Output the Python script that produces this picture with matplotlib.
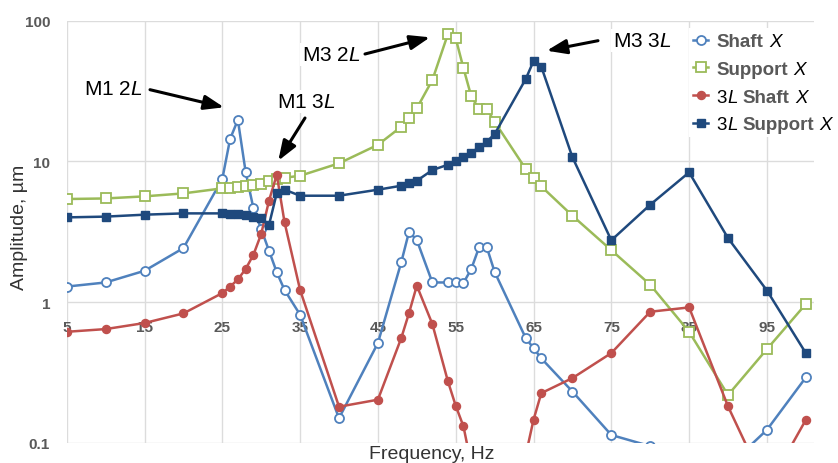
import matplotlib
matplotlib.use('Agg')
import matplotlib.pyplot as plt
from matplotlib.ticker import NullLocator
from matplotlib.offsetbox import AnchoredOffsetbox, HPacker, VPacker, TextArea, DrawingArea
from matplotlib.lines import Line2D

plt.rcParams['font.family'] = ['Liberation Sans', 'DejaVu Sans']
plt.rcParams['mathtext.fontset'] = 'custom'
plt.rcParams['mathtext.rm'] = 'Liberation Sans'
plt.rcParams['mathtext.it'] = 'Liberation Sans:italic'
plt.rcParams['mathtext.bf'] = 'Liberation Sans:bold'

# ---------------- data ----------------
freq = [5, 10, 15, 20, 25, 26, 27, 28, 29, 30, 31, 32, 33, 35, 40, 45, 48, 49, 50,
        52, 54, 55, 56, 57, 58, 59, 60, 64, 65, 66, 70, 75, 80, 85, 90, 95, 100]
shaft_x = [1.29, 1.38, 1.67, 2.42, 7.49, 14.4, 19.7, 8.4, 4.64, 3.3, 2.32, 1.63, 1.22,
           0.814, 0.150, 0.513, 1.92, 3.16, 2.76, 1.38, 1.38, 1.40, 1.37, 1.72, 2.45,
           2.45, 1.64, 0.556, 0.472, 0.399, 0.232, 0.114, 0.095, 0.075, 0.068, 0.124, 0.292]
support_x = [5.40, 5.45, 5.64, 5.92, 6.43, 6.5, 6.6, 6.65, 6.75, 6.85, 7.28, 7.5, 7.65,
             7.9, 9.68, 13.1, 17.6, 20.3, 23.8, 37.8, 80.2, 74.8, 45.8, 28.9, 23.5,
             23.5, 19.1, 8.82, 7.57, 6.64, 4.11, 2.34, 1.33, 0.616, 0.219, 0.464, 0.97]
shaft3l_x = [0.616, 0.644, 0.711, 0.832, 1.16, 1.29, 1.45, 1.72, 2.17, 3.05, 5.25, 8.03,
             3.69, 1.22, 0.181, 0.203, 0.556, 0.837, 1.31, 0.699, 0.274, 0.184, 0.131,
             0.07, 0.05, 0.05, 0.05, 0.082, 0.146, 0.226, 0.289, 0.435, 0.855, 0.918,
             0.182, 0.047, 0.146]
support3l_x = [4.0, 4.05, 4.18, 4.27, 4.27, 4.22, 4.2, 4.15, 4.05, 3.96, 3.53, 5.95, 6.29,
               5.70, 5.70, 6.29, 6.71, 7.01, 7.28, 8.67, 9.46, 10.1, 10.7, 11.5, 12.6,
               13.8, 15.6, 38.4, 51.5, 47.0, 10.7, 2.75, 4.92, 8.35, 2.85, 1.21, 0.435]

x_ticks = [5, 15, 25, 35, 45, 55, 65, 75, 85, 95]
y_ticks = [0.1, 1, 10, 100]
y_tick_labels = ['0.1', '1', '10', '100']

annotations = [
    ('M1 2$\\mathit{L}$', (113, 95), (150, 90.7), (224, 108.3)),
    ('M1 3$\\mathit{L}$', (306, 108.3), (305, 119), (278.3, 161.7)),
    ('M3 2$\\mathit{L}$', (331, 61), (365, 55), (430, 38.3)),
    ('M3 3$\\mathit{L}$', (642, 47.3), (598, 41.7), (546.7, 51.7)),
]

# ---------------- figure ----------------
W, H = 838, 464
fig = plt.figure(figsize=(W / 100, H / 100), dpi=100)
ax = fig.add_axes([66.7 / W, 1 - 444 / H, (813.6 - 66.7) / W, (444 - 21.5) / H])
ax.set_yscale('log')
ax.set_xlim(5, 101)
ax.set_ylim(0.1, 100)

series = [
    (shaft_x, '#4F81BD', 'o', 'white', 6.5, 1.3),
    (support_x, '#9BBB59', 's', 'white', 6.5, 1.3),
    (shaft3l_x, '#C0504D', 'o', '#C0504D', 5.8, 1.0),
    (support3l_x, '#1F497D', 's', '#1F497D', 5.4, 1.0),
]
for vals, c, m, fc, ms, mew in series:
    ax.plot(freq, vals, color=c, lw=1.8, marker=m, ms=ms, mfc=fc, mec=c, mew=mew, zorder=3)

ax.set_xticks(x_ticks)
ax.set_xticklabels([str(t) for t in x_ticks])
ax.set_yticks(y_ticks)
ax.set_yticklabels(y_tick_labels)
ax.yaxis.set_minor_locator(NullLocator())
ax.xaxis.set_minor_locator(NullLocator())
ax.set_axisbelow(True)
ax.grid(True, color='#dcdcdc', lw=1.0)
for s in ax.spines.values():
    s.set_visible(False)
ax.spines['bottom'].set_position(('data', 1))
ax.tick_params(axis='x', length=0, pad=12.5, labelsize=11, labelcolor='#595959')
ax.tick_params(axis='y', length=0, pad=12, labelsize=11, labelcolor='#595959')
for lbl in ax.get_xticklabels() + ax.get_yticklabels():
    lbl.set_fontweight('bold')

# axis titles
fig.text(20 / W, 1 - 227 / H, 'Amplitude, µm', rotation=90, ha='center', va='center',
         fontsize=14, color='#333333')
fig.text(432 / W, 4.5 / H, 'Frequency, Hz', ha='center', va='baseline',
         fontsize=14, color='#333333')

# annotations
def px(x, y):
    return (x, H - y)

for txt, tpos, a0, a1 in annotations:
    ax.annotate(txt, xy=px(*tpos), xycoords='figure pixels', ha='center', va='baseline',
                fontsize=15, color='black', zorder=5,
                bbox=dict(fc='white', ec='none', pad=1.5))
    ax.annotate('', xy=px(*a1), xycoords='figure pixels', xytext=px(*a0),
                textcoords='figure pixels', zorder=6,
                arrowprops=dict(arrowstyle='-|>,head_length=0.6,head_width=0.22',
                                color='black', lw=2.2, shrinkA=0, shrinkB=0,
                                mutation_scale=20))

# legend (custom, mixed styles)
bold_gray = dict(fontsize=13.5, fontweight='bold', color='#595959')
ital = dict(fontsize=13.5, fontstyle='italic', color='black')
reg = dict(fontsize=13.5, color='black')

def spacer(w):
    return DrawingArea(w, 1, 0, 0)

legend_parts = [
    [('Shaft', bold_gray), (' ', None), ('X', ital)],
    [('Support', bold_gray), (' ', None), ('X', ital)],
    [('3', reg), ('L', ital), (' ', None), ('Shaft', bold_gray), (' ', None), ('X', ital)],
    [('3', reg), ('L', ital), (' ', None), ('Support', bold_gray), (' ', None), ('X', ital)],
]
rows = []
for (vals, c, m, fc, ms, mew), parts in zip(series, legend_parts):
    da = DrawingArea(11, 10, 0, 0)
    da.add_artist(Line2D([0, 11], [4.7, 4.7], color=c, lw=1.8))
    da.add_artist(Line2D([5.5], [4.7], marker=m, ms=ms, mfc=fc, mec=c, mew=mew,
                         linestyle='none'))
    children = [da, spacer(6)]
    for t, st in parts:
        if st is None:
            children.append(spacer(3.8))
        else:
            children.append(TextArea(t, textprops=st))
    rows.append(HPacker(children=children, align='baseline', pad=0, sep=0))
vp = VPacker(children=rows, align='left', pad=0, sep=7.1)
box = AnchoredOffsetbox(loc='upper left', child=vp, pad=0.3, frameon=True,
                        bbox_to_anchor=(689 / W, 1 - 29 / H),
                        bbox_transform=fig.transFigure, borderpad=0)
box.patch.set_facecolor('white')
box.patch.set_edgecolor('none')
box.set_zorder(5)
ax.add_artist(box)

fig.savefig('out.png', dpi=100)
